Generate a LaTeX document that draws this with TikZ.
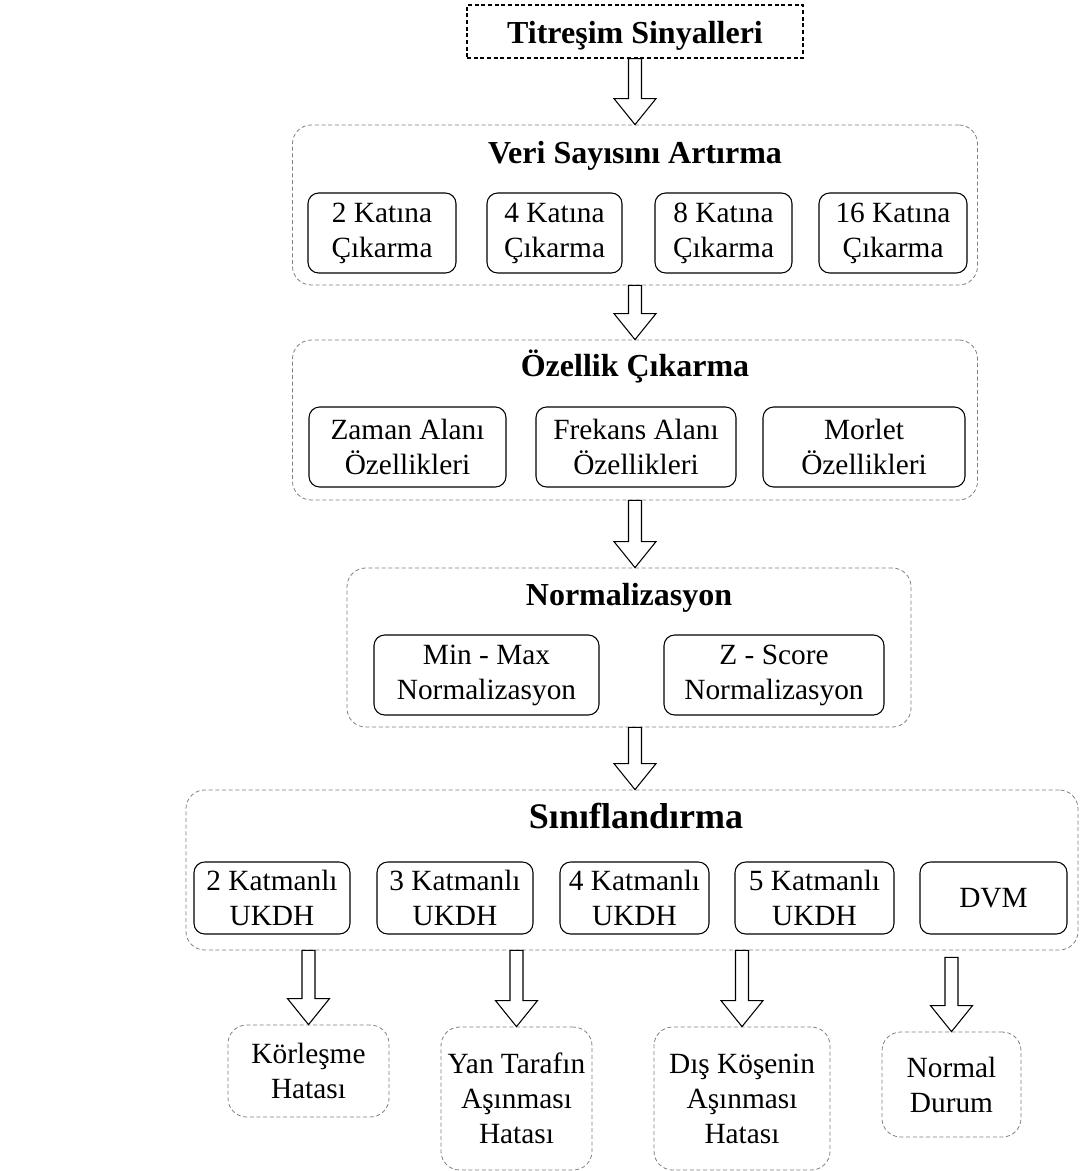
\documentclass[tikz,border=0pt]{standalone}
\usepackage{fontspec}
\setmainfont{Liberation Serif}
\usetikzlibrary{calc,positioning}

\tikzset{
    sz/.style 2 args={minimum width=#1*0.75pt, minimum height=#2*0.75pt, inner sep=0pt},
    grp/.style={draw=black!50, dash pattern=on 3pt off 2pt, rounded corners=14pt, line width=0.6pt},
    topbox/.style={draw, dash pattern=on 3pt off 2pt, line width=0.8pt},
    inbox/.style={draw, rounded corners=8pt, line width=0.8pt, align=center, font=\fontsize{22}{26.25}\selectfont},
    leafbox/.style={grp, align=center, font=\fontsize{22}{26.25}\selectfont},
    ttl/.style={anchor=base, font=\fontsize{24}{28}\selectfont\bfseries},
    bigttl/.style={anchor=base, font=\fontsize{27}{32}\selectfont\bfseries},
    harrow/.style={draw, line width=0.8pt, fill=white, line join=miter}
}
% hollow block arrow: from #1 down to the tip at #2
\newcommand{\blockarr}[2]{%
    \draw[harrow] ($(#1)+(-6.5,0)$) -- ($(#1)+(6.5,0)$) -- ($(#2)+(6.5,-26)$) -- ($(#2)+(21,-26)$)
        -- (#2) -- ($(#2)+(-21,-26)$) -- ($(#2)+(-6.5,-26)$) -- cycle;}

\begin{document}
\begin{tikzpicture}[x=0.75pt,y=-0.75pt]
    \useasboundingbox (0,0) rectangle (1081,1171);
    % input
    \node[topbox,sz={336}{53}] (sig) at (635,31.5) {};
    \node[ttl] (sigt) at (635,43) {Titreşim Sinyalleri};
    % data augmentation
    \node[grp,sz={685}{160}] (veri) at (635,205) {};
    \node[ttl] (verit) at (635,163) {Veri Sayısını Artırma};
    \node[inbox,sz={148}{80}] (v2) at (382,233) {2 Katına\\Çıkarma};
    \node[inbox,sz={135}{80}] (v4) at (554.5,233) {4 Katına\\Çıkarma};
    \node[inbox,sz={137}{80}] (v8) at (723.5,233) {8 Katına\\Çıkarma};
    \node[inbox,sz={148}{80}] (v16) at (893,233) {16 Katına\\Çıkarma};
    % features
    \node[grp,sz={685}{160}] (oz) at (635,420) {};
    \node[ttl] (ozt) at (635,376) {Özellik Çıkarma};
    \node[inbox,sz={197}{80}] (zam) at (407.5,447) {Zaman Alanı\\Özellikleri};
    \node[inbox,sz={200}{80}] (frk) at (636,447) {Frekans Alanı\\Özellikleri};
    \node[inbox,sz={202}{80}] (mor) at (864,447) {Morlet\\Özellikleri};
    % normalization
    \node[grp,sz={564}{159}] (nrm) at (629,647.5) {};
    \node[ttl] (nrmt) at (629,605) {Normalizasyon};
    \node[inbox,sz={225}{80}] (mm) at (486.5,675) {Min - Max\\Normalizasyon};
    \node[inbox,sz={220}{80}] (zs) at (774,675) {Z - Score\\Normalizasyon};
    % classification
    \node[grp,sz={892}{160}] (cls) at (632,870) {};
    \node[bigttl] (clst) at (636,828) {Sınıflandırma};
    \node[inbox,sz={156}{72}] (k2) at (272,898) {2 Katmanlı\\UKDH};
    \node[inbox,sz={156}{72}] (k3) at (455,898) {3 Katmanlı\\UKDH};
    \node[inbox,sz={149}{72}] (k4) at (634.5,898) {4 Katmanlı\\UKDH};
    \node[inbox,sz={159}{72}] (k5) at (814.5,898) {5 Katmanlı\\UKDH};
    \node[inbox,sz={147}{72}] (dvm) at (993.5,898) {DVM};
    % outputs
    \node[leafbox,sz={161}{92}] (kor) at (308.5,1071) {Körleşme\\Hatası};
    \node[leafbox,sz={151}{143}] (yan) at (516.5,1098.5) {Yan Tarafın\\Aşınması\\Hatası};
    \node[leafbox,sz={176}{143}] (dis) at (742,1098.5) {Dış Köşenin\\Aşınması\\Hatası};
    \node[leafbox,sz={139}{105}] (nor) at (951.5,1084.5) {Normal\\Durum};

    \blockarr{sig.south}{veri.north}
    \blockarr{veri.south}{oz.north}
    \blockarr{oz.south}{oz.south |- nrm.north}
    \blockarr{oz.south |- nrm.south}{oz.south |- cls.north}
    \blockarr{kor.north |- cls.south}{kor.north}
    \blockarr{yan.north |- cls.south}{yan.north}
    \blockarr{dis.north |- cls.south}{dis.north}
    \blockarr{$(nor.north |- cls.south)+(0,7)$}{nor.north}
\end{tikzpicture}
\end{document}
